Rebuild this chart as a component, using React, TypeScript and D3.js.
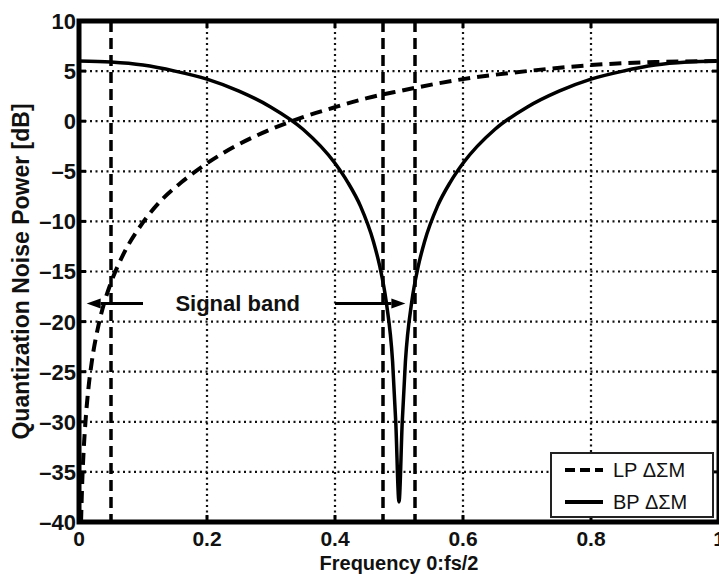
import React from "react";
import * as d3 from "d3";

// LP delta-sigma noise (dashed)
const lpFreq = [0.0032, 0.005, 0.0075, 0.01, 0.015, 0.02, 0.03, 0.04, 0.05, 0.07, 0.1, 0.13, 0.16, 0.2, 0.25, 0.3, 0.35, 0.4, 0.45, 0.5, 0.6, 0.7, 0.8, 0.9, 1.0];
const lpPower = [-40, -36.1, -32.6, -30.1, -26.5, -24.0, -20.5, -18.0, -16.1, -13.2, -10.1, -7.8, -6.1, -4.2, -2.3, -0.8, 0.4, 1.4, 2.3, 3.0, 4.2, 5.0, 5.6, 5.9, 6.0];

// BP delta-sigma noise (solid)
const bpFreq = [0, 0.05, 0.1, 0.15, 0.2, 0.25, 0.3, 0.35, 0.4, 0.42, 0.44, 0.46, 0.47, 0.48, 0.49, 0.495, 0.5, 0.505, 0.51, 0.52, 0.53, 0.54, 0.56, 0.58, 0.6, 0.65, 0.7, 0.75, 0.8, 0.85, 0.9, 0.95, 1.0];
const bpPower = [6.0, 5.9, 5.6, 5.0, 4.2, 3.0, 1.4, -0.8, -4.2, -6.1, -8.5, -12.0, -14.5, -18.0, -24.0, -30.1, -38.0, -30.1, -24.0, -18.0, -14.5, -12.0, -8.5, -6.1, -4.2, -0.8, 1.4, 3.0, 4.2, 5.0, 5.6, 5.9, 6.0];

const xTicks = [0, 0.2, 0.4, 0.6, 0.8, 1];
const xTickLabels = ["0", "0.2", "0.4", "0.6", "0.8", "1"];
const yTicks = [10, 5, 0, -5, -10, -15, -20, -25, -30, -35, -40];
const bandEdges = [0.05, 0.475, 0.525];

// annotation arrows (data units)
const arrowLevel = -18.2;
const leftArrow = [0.1, 0.012];
const rightArrow = [0.4, 0.51];
const bandLabel = "Signal band";
const legendItems = ["LP ΔΣM", "BP ΔΣM"];

const W = 719, H = 574;
const left = 79, right = 719, top = 21, bottom = 522;
const font = "'Liberation Sans', Arial, Helvetica, sans-serif";

export default function App() {
  const x = d3.scaleLinear().domain([0, 1]).range([left, right]);
  const y = d3.scaleLinear().domain([-40, 10]).range([bottom, top]);

  const line = d3.line<[number, number]>()
    .x((d) => x(d[0]))
    .y((d) => y(d[1]))
    .curve(d3.curveMonotoneX);

  const lpPath = line(lpFreq.map((f, i) => [f, lpPower[i]]));
  const bpPath = line(bpFreq.map((f, i) => [f, bpPower[i]]));

  const arrow = (from: number, to: number, key: string) => {
    const y0 = y(arrowLevel);
    const x0 = x(from), x1 = x(to);
    const dir = Math.sign(x1 - x0);
    const head = 14;
    return (
      <g key={key}>
        <line x1={x0} y1={y0} x2={x1 - dir * head} y2={y0} stroke="#000" strokeWidth={3} />
        <path d={`M${x1},${y0} L${x1 - dir * head},${y0 - 5} L${x1 - dir * head},${y0 + 5} Z`} fill="#000" />
      </g>
    );
  };

  const lx = 551, ly = 453, lw = 162, lh = 64;

  return (
    <svg width={W} height={H} style={{ position: "absolute", left: 0, top: 0, background: "#fff" }} fontFamily={font}>
      <rect x={0} y={0} width={W} height={H} fill="#fff" />

      {/* dotted grid */}
      {yTicks.filter((v) => v !== 10 && v !== -40).map((v) => (
        <line key={`gy${v}`} x1={left} x2={right} y1={y(v)} y2={y(v)} stroke="#111" strokeWidth={2.2} strokeDasharray="2 3.5" />
      ))}
      {xTicks.filter((v) => v !== 0 && v !== 1).map((v) => (
        <line key={`gx${v}`} x1={x(v)} x2={x(v)} y1={top} y2={bottom} stroke="#111" strokeWidth={2.2} strokeDasharray="2 3.5" />
      ))}

      {/* signal band edges */}
      {bandEdges.map((v) => (
        <line key={`b${v}`} x1={x(v)} x2={x(v)} y1={top} y2={bottom} stroke="#000" strokeWidth={3.5} strokeDasharray="11 6" />
      ))}

      {/* curves */}
      <path d={lpPath ?? ""} fill="none" stroke="#000" strokeWidth={4} strokeDasharray="12 7" />
      <path d={bpPath ?? ""} fill="none" stroke="#000" strokeWidth={3.5} />

      {/* annotation */}
      {arrow(leftArrow[0], leftArrow[1], "la")}
      {arrow(rightArrow[0], rightArrow[1], "ra")}
      <text x={x(0.248)} y={y(arrowLevel)} dy="0.35em" textAnchor="middle" fontWeight="bold" fontSize={22} fill="#111">
        {bandLabel}
      </text>

      {/* axes box */}
      <rect x={left} y={top} width={right - left} height={bottom - top} fill="none" stroke="#000" strokeWidth={5} />
      {yTicks.map((v) => (
        <g key={`ty${v}`}>
          <line x1={left} x2={left + 7} y1={y(v)} y2={y(v)} stroke="#000" strokeWidth={3} />
          <line x1={right} x2={right - 7} y1={y(v)} y2={y(v)} stroke="#000" strokeWidth={3} />
          <text x={left - 3} y={y(v)} dy="0.36em" textAnchor="end" fontWeight="bold" fontSize={22} fill="#111">
            {v < 0 ? `\u2013${Math.abs(v)}` : v}
          </text>
        </g>
      ))}
      {xTicks.map((v, i) => (
        <g key={`tx${v}`}>
          <line x1={x(v)} x2={x(v)} y1={bottom} y2={bottom - 7} stroke="#000" strokeWidth={3} />
          <line x1={x(v)} x2={x(v)} y1={top} y2={top + 7} stroke="#000" strokeWidth={3} />
          <text x={x(v)} y={bottom + 24} textAnchor="middle" fontWeight="bold" fontSize={21} fill="#111">
            {xTickLabels[i]}
          </text>
        </g>
      ))}

      {/* axis titles */}
      <text x={(left + right) / 2} y={H - 4} textAnchor="middle" fontWeight="bold" fontSize={20} fill="#111">
        Frequency 0:fs/2
      </text>
      <text transform={`translate(29,${(top + bottom) / 2}) rotate(-90)`} textAnchor="middle" fontWeight="bold" fontSize={23} fill="#111">
        Quantization Noise Power [dB]
      </text>

      {/* legend */}
      <rect x={lx} y={ly} width={lw} height={lh} fill="#fff" stroke="#222" strokeWidth={2} />
      <line x1={lx + 14} x2={lx + 52} y1={ly + 17} y2={ly + 17} stroke="#000" strokeWidth={4} strokeDasharray="10 5" />
      <line x1={lx + 14} x2={lx + 52} y1={ly + 49} y2={ly + 49} stroke="#000" strokeWidth={4} />
      <text x={lx + 62} y={ly + 17} dy="0.36em" fontSize={20} fill="#111">{legendItems[0]}</text>
      <text x={lx + 62} y={ly + 49} dy="0.36em" fontSize={20} fill="#111">{legendItems[1]}</text>
    </svg>
  );
}
